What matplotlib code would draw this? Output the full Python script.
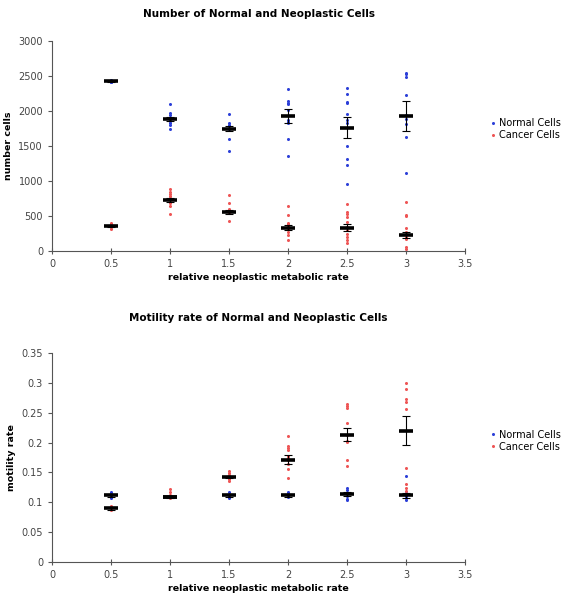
import matplotlib
matplotlib.use("Agg")
import matplotlib.pyplot as plt
import numpy as np

# metabolic rate groups
rates = [0.5, 1, 1.5, 2, 2.5, 3]

# number of cells
num_normal = [
    [2440, 2430, 2420, 2410],
    [2097, 1973, 1940, 1906, 1878, 1859, 1830, 1797, 1740],
    [1963, 1830, 1797, 1764, 1740, 1593, 1431],
    [2320, 2139, 2116, 2097, 2020, 1878, 1845, 1830, 1593, 1355],
    [2334, 2239, 2130, 2116, 1963, 1878, 1830, 1498, 1307, 1226, 951],
    [2543, 2524, 2486, 2225, 1940, 1892, 1821, 1631, 1108],
]
num_cancer = [
    [404, 380, 357, 338, 314],
    [880, 846, 813, 789, 761, 727, 689, 647, 528],
    [799, 689, 594, 575, 561, 547, 433],
    [642, 513, 404, 385, 357, 338, 309, 276, 228, 157],
    [670, 561, 528, 480, 418, 347, 300, 242, 204, 157, 119],
    [704, 513, 499, 323, 276, 242, 195, 166, 52, 24],
]
num_normal_mean = [2425, 1887, 1749, 1925, 1764, 1925]
num_normal_err = [10, 25, 40, 100, 155, 215]
num_cancer_mean = [357, 727, 561, 333, 333, 228]
num_cancer_err = [12, 30, 30, 35, 50, 45]

# motility rate
mot_normal = [
    [0.1166, 0.1144, 0.110, 0.107],
    [0.111, 0.109, 0.108],
    [0.1166, 0.113, 0.110, 0.107],
    [0.1166, 0.1144, 0.111, 0.109],
    [0.124, 0.121, 0.1155, 0.110, 0.1055, 0.104],
    [0.1434, 0.115, 0.111, 0.107, 0.104],
]
mot_cancer = [
    [0.093, 0.090, 0.0865],
    [0.122, 0.1166, 0.113, 0.110, 0.107],
    [0.152, 0.149, 0.146, 0.142, 0.139, 0.135],
    [0.2104, 0.1947, 0.1908, 0.188, 0.178, 0.174, 0.170, 0.1646, 0.1557, 0.1406],
    [0.265, 0.2617, 0.258, 0.2327, 0.2132, 0.202, 0.2003, 0.1713, 0.1613],
    [0.2997, 0.290, 0.2729, 0.2673, 0.2561, 0.1574, 0.1306, 0.1239, 0.1183],
]
mot_normal_mean = [0.1116, 0.109, 0.1116, 0.1116, 0.1138, 0.1116]
mot_normal_err = [0.002, 0.001, 0.002, 0.002, 0.003, 0.004]
mot_cancer_mean = [0.0898, 0.1088, 0.1423, 0.1713, 0.2132, 0.2199]
mot_cancer_err = [0.002, 0.002, 0.002, 0.0075, 0.011, 0.024]

blue = "#2c3fd8"
red = "#ee5555"

fig = plt.figure(figsize=(5.66, 6.01), dpi=100)
ax1 = fig.add_axes([0.092, 0.5824, 0.7297, 0.3494])
ax2 = fig.add_axes([0.092, 0.0649, 0.7297, 0.3478])


def draw(ax, normal, cancer, nm, ne, cm, ce):
    for i, x in enumerate(rates):
        ax.plot([x] * len(normal[i]), normal[i], "o", color=blue, ms=2.2, mew=0,
                label="Normal Cells" if i == 0 else None)
    for i, x in enumerate(rates):
        ax.plot([x] * len(cancer[i]), cancer[i], "o", color=red, ms=2.2, mew=0,
                label="Cancer Cells" if i == 0 else None)
    for m, e in ((nm, ne), (cm, ce)):
        ax.errorbar(rates, m, yerr=e, fmt="none", ecolor="black", elinewidth=0.8,
                    capsize=3, capthick=0.8)
        ax.plot(rates, m, "_", color="black", ms=10, mew=2.6)
    for s in ("top", "right"):
        ax.spines[s].set_visible(False)
    for s in ("left", "bottom"):
        ax.spines[s].set_color("#555555")
        ax.spines[s].set_linewidth(0.8)
    ax.set_xlim(0, 3.5)
    ax.set_xticks(np.arange(0, 3.51, 0.5))
    ax.set_xticklabels(["0", "0.5", "1", "1.5", "2", "2.5", "3", "3.5"])
    ax.tick_params(labelsize=7, colors="#555555", labelcolor="#444444",
                   length=3, width=0.8)
    ax.tick_params(axis="x", direction="inout", length=4)
    ax.set_xlabel("relative neoplastic metabolic rate", fontsize=6.8,
                  fontweight="bold", labelpad=3)
    ax.legend(loc="upper left", bbox_to_anchor=(1.04, 0.665), frameon=False,
              fontsize=7, handletextpad=0.05, markerscale=1.0, borderaxespad=0.3,
              labelspacing=0.2, handlelength=1.0)


draw(ax1, num_normal, num_cancer, num_normal_mean, num_normal_err,
     num_cancer_mean, num_cancer_err)
ax1.set_ylim(0, 3000)
ax1.set_yticks(np.arange(0, 3001, 500))
ax1.set_ylabel("number cells", fontsize=6.8, fontweight="bold", labelpad=4)
ax1.set_title("Number of Normal and Neoplastic Cells", fontsize=7.5,
              fontweight="bold", pad=17)

draw(ax2, mot_normal, mot_cancer, mot_normal_mean, mot_normal_err,
     mot_cancer_mean, mot_cancer_err)
ax2.set_ylim(0, 0.35)
ax2.set_yticks(np.arange(0, 0.351, 0.05))
ax2.set_yticklabels(["0", "0.05", "0.1", "0.15", "0.2", "0.25", "0.3", "0.35"])
ax2.set_ylabel("motility rate", fontsize=6.8, fontweight="bold", labelpad=4)
ax2.set_title("Motility rate of Normal and Neoplastic Cells", fontsize=7.5,
              fontweight="bold", pad=23)

fig.savefig("out.png", dpi=100)
